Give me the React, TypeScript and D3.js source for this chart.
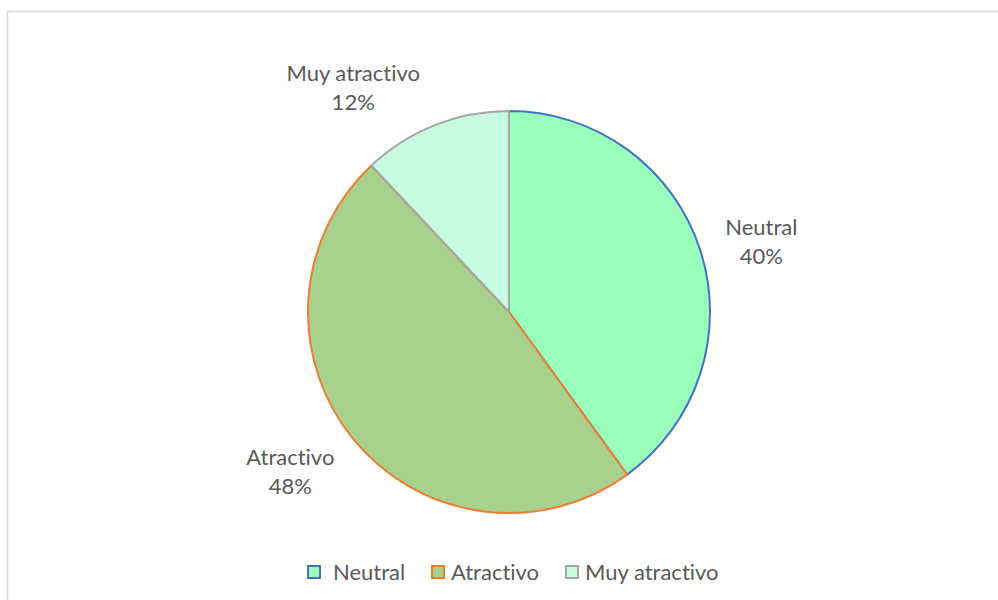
import * as d3 from "d3";
import React, { useEffect, useRef } from "react";

const categories = ["Neutral", "Atractivo", "Muy atractivo"];
const values = [40, 48, 12];
const fills = ["#99FFBB", "#A9D18E", "#C7FCE3"];
const strokes = ["#4472C4", "#ED7D31", "#A5A5A5"];

const W = 998;
const H = 600;

export default function App() {
  const svgRef = useRef<SVGSVGElement | null>(null);

  useEffect(() => {
    document.body.style.margin = "0";
    if (!svgRef.current) return;
    const svg = d3.select(svgRef.current);
    svg.selectAll("*").remove();

    const font = "Lato, 'Open Sans', sans-serif";
    const textColor = "#595959";
    const fontSize = 22;

    // chart frame (cut off on right and bottom)
    svg
      .append("path")
      .attr("d", `M7.5,${H} V11.5 H${W}`)
      .attr("fill", "none")
      .attr("stroke", "#D9D9D9")
      .attr("stroke-width", 1.5);

    const cx = 509;
    const cy = 312;
    const r = 201;

    const data = categories.map((c, i) => ({ name: c, value: values[i], i }));
    const pie = d3
      .pie<{ name: string; value: number; i: number }>()
      .value((d) => d.value)
      .sort(null);
    const arcs = pie(data);
    const arc = d3
      .arc<d3.PieArcDatum<{ name: string; value: number; i: number }>>()
      .innerRadius(0)
      .outerRadius(r);

    const g = svg.append("g").attr("transform", `translate(${cx},${cy})`);
    g.selectAll("path.slice")
      .data(arcs)
      .enter()
      .append("path")
      .attr("class", "slice")
      .attr("d", arc)
      .attr("fill", (d) => fills[d.data.i])
      .attr("stroke", (d) => strokes[d.data.i])
      .attr("stroke-width", 2)
      .attr("stroke-linejoin", "round");

    // "best fit" label placement: mid-angle nudged, per-slice radius
    const labelNudge = [2.4, 3.4, -13.2]; // degrees
    const labelR = [262, 271, 273];
    const total = d3.sum(values);
    const labels = g
      .selectAll("text.lbl")
      .data(arcs)
      .enter()
      .append("text")
      .attr("class", "lbl")
      .attr("text-anchor", "middle")
      .attr("font-family", font)
      .attr("font-size", fontSize)
      .attr("fill", textColor)
      .style("font-variant-ligatures", "none")
      .attr("transform", (d) => {
        const a = (d.startAngle + d.endAngle) / 2 + (labelNudge[d.data.i] * Math.PI) / 180;
        const rr = labelR[d.data.i];
        return `translate(${rr * Math.sin(a)},${-rr * Math.cos(a)})`;
      });
    labels
      .append("tspan")
      .attr("x", 0)
      .attr("y", -14.5)
      .attr("dy", "0.35em")
      .text((d) => d.data.name);
    labels
      .append("tspan")
      .attr("x", 0)
      .attr("y", 14.5)
      .attr("dy", "0.35em")
      .text((d) => `${Math.round((d.data.value / total) * 100)}%`);

    // legend
    const legendX = [308, 432, 566];
    const ly = 572;
    const leg = svg
      .selectAll("g.leg")
      .data(categories)
      .enter()
      .append("g")
      .attr("class", "leg")
      .attr("transform", (_, i) => `translate(${legendX[i]},${ly})`);
    leg
      .append("rect")
      .attr("x", 0)
      .attr("y", -6)
      .attr("width", 12)
      .attr("height", 12)
      .attr("fill", (_, i) => fills[i])
      .attr("stroke", (_, i) => strokes[i])
      .attr("stroke-width", 2);
    leg
      .append("text")
      .attr("x", (_, i) => (i === 0 ? 25 : 19))
      .attr("y", 0)
      .attr("dy", "0.35em")
      .attr("font-family", font)
      .attr("font-size", fontSize)
      .attr("fill", textColor)
      .style("font-variant-ligatures", "none")
      .text((d) => d);
  }, []);

  return (
    <svg
      ref={svgRef}
      width={W}
      height={H}
      style={{ display: "block", background: "#fff" }}
    />
  );
}
